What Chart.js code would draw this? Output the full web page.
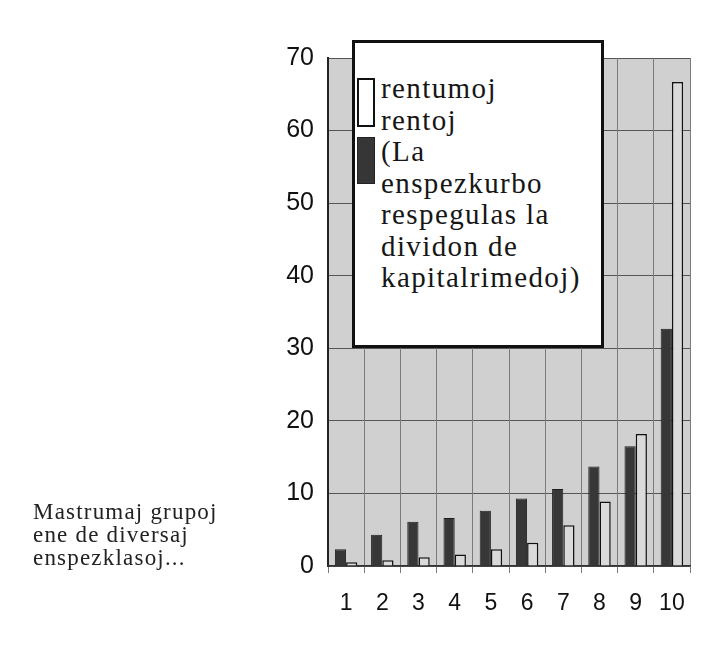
<!DOCTYPE html>
<html>
<head>
<meta charset="utf-8">
<script src="https://cdn.jsdelivr.net/npm/chart.js@4/dist/chart.umd.min.js"></script>
<style>
  html, body { margin: 0; padding: 0; background: #fff; }
  #wrap { position: relative; width: 705px; height: 647px; overflow: hidden; }
  #chart { position: absolute; left: 0; top: 0; }
  /* 左側說明文字 */
  #caption {
    position: absolute; left: 33px; top: 500px;
    font-family: "Liberation Serif", serif; font-size: 23px; line-height: 23px;
    letter-spacing: 1.2px; color: #222;
  }
  /* 圖例方框 (蓋在繪圖區上) */
  #legendBox {
    position: absolute; left: 352px; top: 40px; width: 252px; height: 308px;
    box-sizing: border-box; border: 3px solid #111; background: #fff;
  }
  #legendText {
    position: absolute; left: 26px; top: 30px;
    font-family: "Liberation Serif", serif; font-size: 29px; line-height: 31.5px;
    letter-spacing: 1.4px; color: #161616; white-space: nowrap;
  }
  .mark { position: absolute; left: 2px; width: 18px; box-sizing: border-box; }
  #markLight { top: 35px; height: 49px; border: 2px solid #111; background: #fff; }
  #markDark { top: 94px; height: 47px; background: #363636; border: 1px solid #222; }
</style>
</head>
<body>
<div id="wrap">
  <canvas id="chart" width="705" height="647"></canvas>
  <div id="caption"></div>
  <div id="legendBox">
    <div class="mark" id="markLight"></div>
    <div class="mark" id="markDark"></div>
    <div id="legendText"></div>
  </div>
</div>
<script>
// 類別 (收入十分位組)
const groups = ['1', '2', '3', '4', '5', '6', '7', '8', '9', '10'];
// 深色長條
const rentojValues = [2.3, 4.3, 6.1, 6.6, 7.6, 9.3, 10.6, 13.7, 16.5, 32.7];
// 淺色長條
const rentumojValues = [0.5, 0.8, 1.2, 1.6, 2.3, 3.2, 5.6, 8.9, 18.2, 66.7];
// Y 軸刻度
const yTicks = [0, 10, 20, 30, 40, 50, 60, 70];
// 圖例文字 (逐行)
const legendLines = ['rentumoj', 'rentoj', '(La', 'enspezkurbo', 'respegulas la', 'dividon de', 'kapitalrimedoj)'];
// 左側說明
const captionLines = ['Mastrumaj grupoj', 'ene de diversaj', 'enspezklasoj...'];

document.getElementById('legendText').innerHTML = legendLines.join('<br>');
document.getElementById('caption').innerHTML = captionLines.join('<br>');

// 繪圖區灰色底
const plotBackground = {
  id: 'plotBackground',
  beforeDraw(chart) {
    const a = chart.chartArea;
    const ctx = chart.ctx;
    ctx.save();
    ctx.fillStyle = '#d0d0d0';
    ctx.fillRect(a.left, a.top, a.right - a.left, a.bottom - a.top);
    ctx.restore();
  }
};

new Chart(document.getElementById('chart'), {
  type: 'bar',
  data: {
    labels: groups,
    datasets: [{
      label: 'rentoj',
      data: rentojValues,
      backgroundColor: '#373737',
      borderColor: '#1e1e1e',
      borderWidth: 1,
      categoryPercentage: 0.62,
      barPercentage: 1.0
    }, {
      label: 'rentumoj',
      data: rentumojValues,
      backgroundColor: '#dadada',
      borderColor: '#111',
      borderWidth: 1.5,
      categoryPercentage: 0.62,
      barPercentage: 1.0
    }]
  },
  options: {
    responsive: false,
    animation: false,
    layout: { padding: { left: 250, right: 15, top: 58, bottom: 0 } },
    plugins: { legend: { display: false }, tooltip: { enabled: false } },
    scales: {
      y: {
        min: 0, max: 70,
        afterFit(scale) { scale.width = 78; },
        afterBuildTicks(scale) { scale.ticks = yTicks.map(v => ({ value: v })); },
        ticks: {
          padding: 14,
          color: '#111',
          font: { family: '"Liberation Sans", Arial, sans-serif', size: 25 }
        },
        grid: { color: '#555', lineWidth: 1, drawTicks: false },
        border: { color: '#222', width: 2 }
      },
      x: {
        afterFit(scale) { scale.height = 81; },
        ticks: {
          padding: 17,
          color: '#111',
          font: { family: '"Liberation Sans", Arial, sans-serif', size: 23 }
        },
        grid: { offset: true, color: '#7a7a7a', lineWidth: 1, tickLength: 7 },
        border: { color: '#333', width: 1.5 }
      }
    }
  },
  plugins: [plotBackground]
});
</script>
</body>
</html>
